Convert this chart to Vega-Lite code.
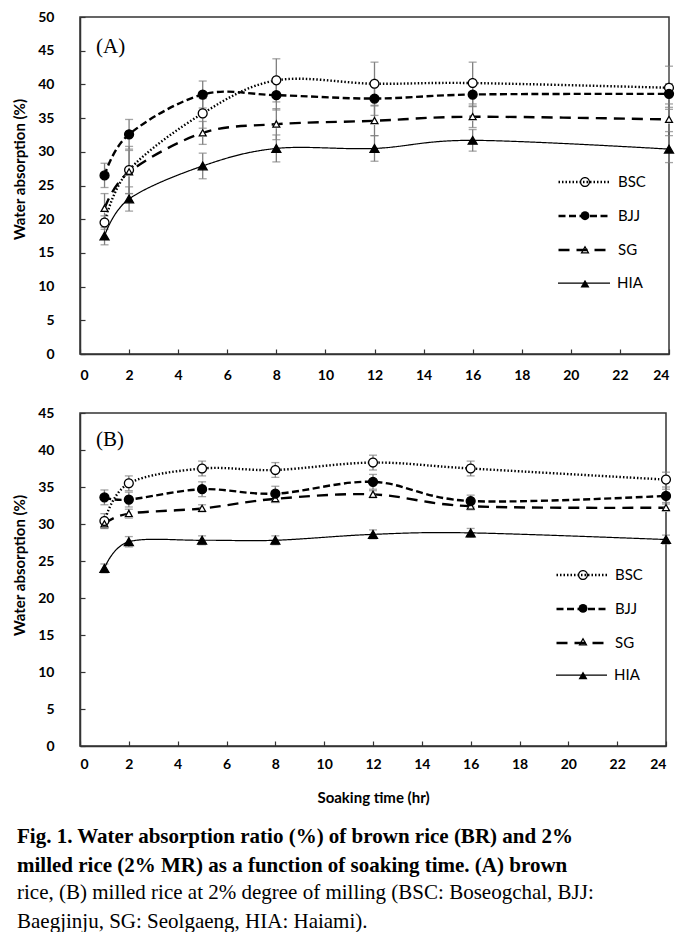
{
  "$schema": "https://vega.github.io/schema/vega-lite/v6.json",
  "autosize": {"type": "pad"},
  "padding": {"left": 11, "top": 9, "right": 0, "bottom": 0},
  "background": "white",
  "datasets": {
    "a": [
      {"t": 1, "series": "BSC", "v": 19.5, "e": 1.0},
      {"t": 1, "series": "BJJ", "v": 26.5, "e": 1.8},
      {"t": 1, "series": "SG", "v": 21.6, "e": 2.2},
      {"t": 1, "series": "HIA", "v": 17.5, "e": 1.3},
      {"t": 2, "series": "BSC", "v": 27.3, "e": 3.5},
      {"t": 2, "series": "BJJ", "v": 32.6, "e": 2.2},
      {"t": 2, "series": "SG", "v": 27.0, "e": 3.2},
      {"t": 2, "series": "HIA", "v": 23.0, "e": 1.8},
      {"t": 5, "series": "BSC", "v": 35.7, "e": 2.2},
      {"t": 5, "series": "BJJ", "v": 38.5, "e": 2.0},
      {"t": 5, "series": "SG", "v": 32.8, "e": 1.7},
      {"t": 5, "series": "HIA", "v": 27.9, "e": 1.9},
      {"t": 8, "series": "BSC", "v": 40.6, "e": 3.2},
      {"t": 8, "series": "BJJ", "v": 38.4, "e": 2.2},
      {"t": 8, "series": "SG", "v": 34.1, "e": 2.3},
      {"t": 8, "series": "HIA", "v": 30.5, "e": 2.0},
      {"t": 12, "series": "BSC", "v": 40.1, "e": 3.2},
      {"t": 12, "series": "BJJ", "v": 37.9, "e": 2.5},
      {"t": 12, "series": "SG", "v": 34.6, "e": 2.2},
      {"t": 12, "series": "HIA", "v": 30.5, "e": 1.9},
      {"t": 16, "series": "BSC", "v": 40.2, "e": 3.1},
      {"t": 16, "series": "BJJ", "v": 38.5, "e": 1.8},
      {"t": 16, "series": "SG", "v": 35.2, "e": 1.6},
      {"t": 16, "series": "HIA", "v": 31.7, "e": 1.6},
      {"t": 24, "series": "BSC", "v": 39.5, "e": 3.2},
      {"t": 24, "series": "BJJ", "v": 38.6, "e": 1.5},
      {"t": 24, "series": "SG", "v": 34.8, "e": 1.8},
      {"t": 24, "series": "HIA", "v": 30.4, "e": 2.0}
    ],
    "b": [
      {"t": 1, "series": "BSC", "v": 30.4, "e": 1.0},
      {"t": 1, "series": "BJJ", "v": 33.6, "e": 1.0},
      {"t": 1, "series": "SG", "v": 30.0, "e": 0.6},
      {"t": 1, "series": "HIA", "v": 24.0, "e": 0.6},
      {"t": 2, "series": "BSC", "v": 35.5, "e": 1.0},
      {"t": 2, "series": "BJJ", "v": 33.3, "e": 1.0},
      {"t": 2, "series": "SG", "v": 31.4, "e": 0.6},
      {"t": 2, "series": "HIA", "v": 27.6, "e": 0.7},
      {"t": 5, "series": "BSC", "v": 37.5, "e": 1.0},
      {"t": 5, "series": "BJJ", "v": 34.7, "e": 1.0},
      {"t": 5, "series": "SG", "v": 32.1, "e": 0.5},
      {"t": 5, "series": "HIA", "v": 27.8, "e": 0.6},
      {"t": 8, "series": "BSC", "v": 37.3, "e": 1.0},
      {"t": 8, "series": "BJJ", "v": 34.1, "e": 1.0},
      {"t": 8, "series": "SG", "v": 33.4, "e": 0.5},
      {"t": 8, "series": "HIA", "v": 27.8, "e": 0.6},
      {"t": 12, "series": "BSC", "v": 38.3, "e": 1.0},
      {"t": 12, "series": "BJJ", "v": 35.7, "e": 1.0},
      {"t": 12, "series": "SG", "v": 34.0, "e": 0.5},
      {"t": 12, "series": "HIA", "v": 28.6, "e": 0.6},
      {"t": 16, "series": "BSC", "v": 37.5, "e": 1.0},
      {"t": 16, "series": "BJJ", "v": 33.1, "e": 0.8},
      {"t": 16, "series": "SG", "v": 32.4, "e": 0.5},
      {"t": 16, "series": "HIA", "v": 28.8, "e": 0.6},
      {"t": 24, "series": "BSC", "v": 36.0, "e": 1.0},
      {"t": 24, "series": "BJJ", "v": 33.8, "e": 0.9},
      {"t": 24, "series": "SG", "v": 32.2, "e": 0.5},
      {"t": 24, "series": "HIA", "v": 27.9, "e": 0.6}
    ]
  },
  "title": {
    "text": ["Fig. 1. Water absorption ratio (%) of brown rice (BR) and 2%", "milled rice (2% MR) as a function of soaking time. (A) brown"],
    "subtitle": ["rice, (B) milled rice at 2% degree of milling (BSC: Boseogchal, BJJ:", "Baegjinju, SG: Seolgaeng, HIA: Haiami)."],
    "orient": "bottom",
    "anchor": "start",
    "frame": "group",
    "dx": -63,
    "offset": 20,
    "font": "Liberation Serif",
    "fontSize": 21,
    "fontWeight": "bold",
    "lineHeight": 29,
    "color": "black",
    "subtitleFont": "Liberation Serif",
    "subtitleFontSize": 21,
    "subtitleFontWeight": "normal",
    "subtitleLineHeight": 29,
    "subtitleColor": "black",
    "subtitlePadding": 6
  },
  "vconcat": [
    {
      "width": 589,
      "height": 337,
      "data": {"name": "a"},
      "title": {"text": "(A)", "anchor": "start", "frame": "group", "dx": 16, "offset": -47, "font": "Liberation Serif", "fontSize": 21, "fontWeight": "normal", "color": "black"},
      "encoding": {
        "x": {"field": "t", "type": "quantitative", "scale": {"domain": [0, 24], "nice": false},
          "axis": {"values": [0, 2, 4, 6, 8, 10, 12, 14, 16, 18, 20, 22, 24], "title": null, "labelPadding": 19}},
        "y": {"field": "v", "type": "quantitative", "scale": {"domain": [0, 50], "nice": false},
          "axis": {"values": [0, 5, 10, 15, 20, 25, 30, 35, 40, 45, 50], "title": "Water absorption (%)"}}
      },
      "layer": [
        {
          "mark": {"type": "errorbar", "color": "#7f7f7f", "thickness": 1.3, "ticks": {"size": 8, "color": "#7f7f7f"}},
          "encoding": {"yError": {"field": "e"}}
        },
        {
          "transform": [{"filter": "datum.series !== 'HIA'"}],
          "mark": {"type": "line", "interpolate": "cardinal", "color": "black", "strokeWidth": 2.4},
          "encoding": {
            "strokeDash": {"field": "series", "type": "nominal",
              "scale": {"domain": ["BSC", "BJJ", "SG"], "range": [[1.5, 2], [7, 3.5], [11, 7]]},
              "legend": {"orient": "none", "legendX": 477, "legendY": 148.15, "title": null, "symbolType": "stroke", "symbolSize": 2704, "clipHeight": 33.7, "rowPadding": 0, "padding": 0, "labelOffset": 6, "labelFont": "Lato", "labelFontSize": 15, "labelColor": "black", "symbolStrokeColor": "black", "symbolStrokeWidth": 2.4}}
          }
        },
        {
          "transform": [{"filter": "datum.series === 'HIA'"}],
          "mark": {"type": "line", "interpolate": "cardinal", "color": "black", "strokeWidth": 1.2},
          "encoding": {
            "strokeDash": {"field": "series", "type": "nominal",
              "scale": {"domain": ["HIA"], "range": [[1, 0]]},
              "legend": {"orient": "none", "legendX": 477, "legendY": 249.25, "title": null, "symbolType": "stroke", "symbolSize": 2704, "clipHeight": 33.7, "rowPadding": 0, "padding": 0, "labelOffset": 6, "labelFont": "Lato", "labelFontSize": 15, "labelColor": "black", "symbolStrokeColor": "black", "symbolStrokeWidth": 1.2}}
          }
        },
        {
          "transform": [{"filter": "datum.series === 'BSC' || datum.series === 'SG'"}],
          "mark": {"type": "point", "filled": true, "color": "white", "fill": "white", "opacity": 1, "size": 90},
          "encoding": {
            "shape": {"field": "series", "type": "nominal",
              "scale": {"domain": ["BSC", "SG"], "range": ["circle", "triangle-up"]},
              "legend": null}
          }
        },
        {
          "transform": [{"filter": "datum.series === 'BSC' || datum.series === 'SG'"}],
          "mark": {"type": "point", "filled": true, "color": "black", "fill": "black", "strokeWidth": 0, "opacity": 1, "fillOpacity": 1, "size": 102},
          "encoding": {
            "shape": {"field": "series", "type": "nominal",
              "scale": {"domain": ["BSC", "SG"], "range": ["M1,0A1,1,0,1,1,-1,0A1,1,0,1,1,1,0Z M0.75,0A0.75,0.75,0,1,0,-0.75,0A0.75,0.75,0,1,0,0.75,0Z", "M0,-0.9L0.9,0.7L-0.9,0.7Z M0,-0.39L-0.4725,0.45L0.4725,0.45Z"]},
              "legend": {"orient": "none", "legendX": 499.5, "legendY": 131.3, "title": null, "symbolSize": 102, "clipHeight": 67.4, "rowPadding": 0, "padding": 0, "labelOpacity": 0, "symbolFillColor": "black", "symbolStrokeWidth": 0, "symbolOpacity": 1}}
          }
        },
        {
          "transform": [{"filter": "datum.series === 'BJJ' || datum.series === 'HIA'"}],
          "mark": {"type": "point", "color": "black", "stroke": "black", "fill": "black", "strokeWidth": 1.3, "opacity": 1, "fillOpacity": 1, "size": 80},
          "encoding": {
            "shape": {"field": "series", "type": "nominal",
              "scale": {"domain": ["BJJ", "HIA"], "range": ["circle", "triangle-up"]},
              "legend": {"orient": "none", "legendX": 499.5, "legendY": 165, "title": null, "symbolSize": 80, "clipHeight": 67.4, "rowPadding": 0, "padding": 0, "labelOpacity": 0, "symbolStrokeColor": "black", "symbolFillColor": "black", "symbolStrokeWidth": 1.3, "symbolOpacity": 1}}
          }
        }
      ],
      "resolve": {"scale": {"strokeDash": "independent", "shape": "independent"}, "legend": {"strokeDash": "independent", "shape": "independent"}}
    },
    {
      "width": 586,
      "height": 333,
      "data": {"name": "b"},
      "title": {"text": "(B)", "anchor": "start", "frame": "group", "dx": 16, "offset": -44, "font": "Liberation Serif", "fontSize": 21, "fontWeight": "normal", "color": "black"},
      "encoding": {
        "x": {"field": "t", "type": "quantitative", "scale": {"domain": [0, 24], "nice": false},
          "axis": {"values": [0, 2, 4, 6, 8, 10, 12, 14, 16, 18, 20, 22, 24], "title": "Soaking time (hr)", "labelPadding": 16, "titleY": 56, "titleBaseline": "alphabetic"}},
        "y": {"field": "v", "type": "quantitative", "scale": {"domain": [0, 45], "nice": false},
          "axis": {"values": [0, 5, 10, 15, 20, 25, 30, 35, 40, 45], "title": "Water absorption (%)"}}
      },
      "layer": [
        {
          "mark": {"type": "errorbar", "color": "#7f7f7f", "thickness": 1.3, "ticks": {"size": 8, "color": "#7f7f7f"}},
          "encoding": {"yError": {"field": "e"}}
        },
        {
          "transform": [{"filter": "datum.series !== 'HIA'"}],
          "mark": {"type": "line", "interpolate": "cardinal", "color": "black", "strokeWidth": 2.4},
          "encoding": {
            "strokeDash": {"field": "series", "type": "nominal",
              "scale": {"domain": ["BSC", "BJJ", "SG"], "range": [[1.5, 2], [7, 3.5], [11, 7]]},
              "legend": {"orient": "none", "legendX": 475, "legendY": 145.3, "title": null, "symbolType": "stroke", "symbolSize": 2601, "clipHeight": 33.4, "rowPadding": 0, "padding": 0, "labelOffset": 6, "labelFont": "Lato", "labelFontSize": 15, "labelColor": "black", "symbolStrokeColor": "black", "symbolStrokeWidth": 2.4}}
          }
        },
        {
          "transform": [{"filter": "datum.series === 'HIA'"}],
          "mark": {"type": "line", "interpolate": "cardinal", "color": "black", "strokeWidth": 1.2},
          "encoding": {
            "strokeDash": {"field": "series", "type": "nominal",
              "scale": {"domain": ["HIA"], "range": [[1, 0]]},
              "legend": {"orient": "none", "legendX": 475, "legendY": 245.5, "title": null, "symbolType": "stroke", "symbolSize": 2601, "clipHeight": 33.4, "rowPadding": 0, "padding": 0, "labelOffset": 6, "labelFont": "Lato", "labelFontSize": 15, "labelColor": "black", "symbolStrokeColor": "black", "symbolStrokeWidth": 1.2}}
          }
        },
        {
          "transform": [{"filter": "datum.series === 'BSC' || datum.series === 'SG'"}],
          "mark": {"type": "point", "filled": true, "color": "white", "fill": "white", "opacity": 1, "size": 90},
          "encoding": {
            "shape": {"field": "series", "type": "nominal",
              "scale": {"domain": ["BSC", "SG"], "range": ["circle", "triangle-up"]},
              "legend": null}
          }
        },
        {
          "transform": [{"filter": "datum.series === 'BSC' || datum.series === 'SG'"}],
          "mark": {"type": "point", "filled": true, "color": "black", "fill": "black", "strokeWidth": 0, "opacity": 1, "fillOpacity": 1, "size": 102},
          "encoding": {
            "shape": {"field": "series", "type": "nominal",
              "scale": {"domain": ["BSC", "SG"], "range": ["M1,0A1,1,0,1,1,-1,0A1,1,0,1,1,1,0Z M0.75,0A0.75,0.75,0,1,0,-0.75,0A0.75,0.75,0,1,0,0.75,0Z", "M0,-0.9L0.9,0.7L-0.9,0.7Z M0,-0.39L-0.4725,0.45L0.4725,0.45Z"]},
              "legend": {"orient": "none", "legendX": 497.5, "legendY": 128.6, "title": null, "symbolSize": 102, "clipHeight": 66.8, "rowPadding": 0, "padding": 0, "labelOpacity": 0, "symbolFillColor": "black", "symbolStrokeWidth": 0, "symbolOpacity": 1}}
          }
        },
        {
          "transform": [{"filter": "datum.series === 'BJJ' || datum.series === 'HIA'"}],
          "mark": {"type": "point", "color": "black", "stroke": "black", "fill": "black", "strokeWidth": 1.3, "opacity": 1, "fillOpacity": 1, "size": 80},
          "encoding": {
            "shape": {"field": "series", "type": "nominal",
              "scale": {"domain": ["BJJ", "HIA"], "range": ["circle", "triangle-up"]},
              "legend": {"orient": "none", "legendX": 497.5, "legendY": 162, "title": null, "symbolSize": 80, "clipHeight": 66.8, "rowPadding": 0, "padding": 0, "labelOpacity": 0, "symbolStrokeColor": "black", "symbolFillColor": "black", "symbolStrokeWidth": 1.3, "symbolOpacity": 1}}
          }
        }
      ],
      "resolve": {"scale": {"strokeDash": "independent", "shape": "independent"}, "legend": {"strokeDash": "independent", "shape": "independent"}}
    }
  ],
  "spacing": 59,
  "bounds": "flush",
  "resolve": {
    "scale": {"x": "independent", "y": "independent", "strokeDash": "independent", "shape": "independent"},
    "legend": {"strokeDash": "independent", "shape": "independent"}
  },
  "config": {
    "view": {"stroke": "#333333", "strokeWidth": 1.5},
    "axis": {
      "grid": false,
      "domainColor": "#333333",
      "domainWidth": 1.5,
      "tickColor": "#333333",
      "tickWidth": 1.2,
      "tickSize": -5,
      "labelFont": "Lato",
      "labelFontWeight": "bold",
      "labelFontSize": 14,
      "labelColor": "black",
      "titleFont": "Lato",
      "titleFontWeight": "bold",
      "titleFontSize": 15,
      "titleColor": "black"
    },
    "axisY": {"labelPadding": 31, "titleX": -61, "titleY": 152, "titleBaseline": "middle", "titleAlign": "center", "labelFlush": false}
  }
}
